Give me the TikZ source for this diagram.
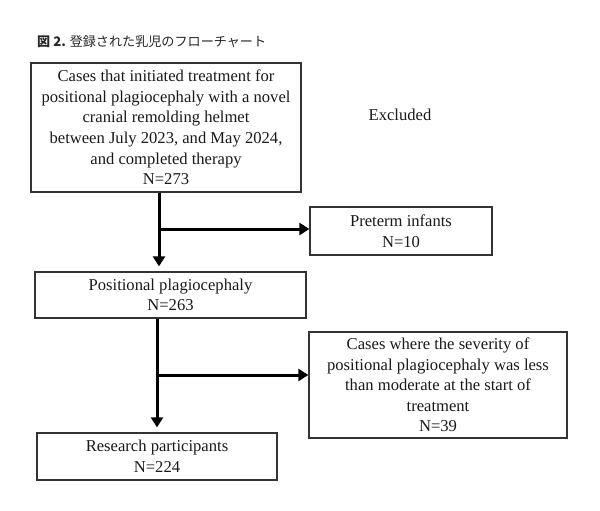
\documentclass[tikz,border=0pt]{standalone}
\usepackage{fontspec}
\setmainfont{Liberation Serif}
\newfontfamily\cjk{Noto Sans CJK JP}
\usetikzlibrary{arrows.meta}
\begin{document}
\begin{tikzpicture}[x=1pt,y=-1pt,
  box/.style={draw=black!80,line width=1.3pt,align=center,inner sep=0pt,
    font=\fontsize{16.6}{20.6}\selectfont,text=black!90},
  arr/.style={line width=3pt,-{Triangle[width=12pt,length=10pt]}}]
\useasboundingbox (0,0) rectangle (600,511);
\node[anchor=west,inner sep=0pt,font=\cjk\fontsize{13.1}{16}\selectfont,text=black!85] (title) at (37,42) {\textbf{図 2.} 登録された乳児のフローチャート};
\node[box,minimum width=270pt,minimum height=129pt] (b1) at (166,127.5)
  {Cases that initiated treatment for\\positional plagiocephaly with a novel\\cranial remolding helmet\\between July 2023, and May 2024,\\and completed therapy\\N=273};
\node[box,minimum width=182pt,minimum height=48pt] (pre) at (401,231) {Preterm infants\\N=10};
\node[box,minimum width=271pt,minimum height=46pt] (b2) at (170.5,295) {Positional plagiocephaly\\N=263};
\node[box,minimum width=258pt,minimum height=106pt] (mod) at (438,385)
  {Cases where the severity of\\positional plagiocephaly was less\\than moderate at the start of\\treatment\\N=39};
\node[box,minimum width=240pt,minimum height=47pt] (res) at (157,456.5) {Research participants\\N=224};
\node[font=\fontsize{16.6}{20}\selectfont,text=black!90] (exc) at (400,115) {Excluded};
\coordinate (j1) at (159,229);
\coordinate (j2) at (157,375);
\draw[arr,shorten >=5pt] (b1.south -| j1) -- (b2.north -| j1);
\draw[arr] ([xshift=-1.5pt]j1) -- (pre.west |- j1);
\draw[arr,shorten >=5pt] (b2.south -| j2) -- (res.north -| j2);
\draw[arr] ([xshift=-1.5pt]j2) -- (mod.west |- j2);
\end{tikzpicture}
\end{document}
